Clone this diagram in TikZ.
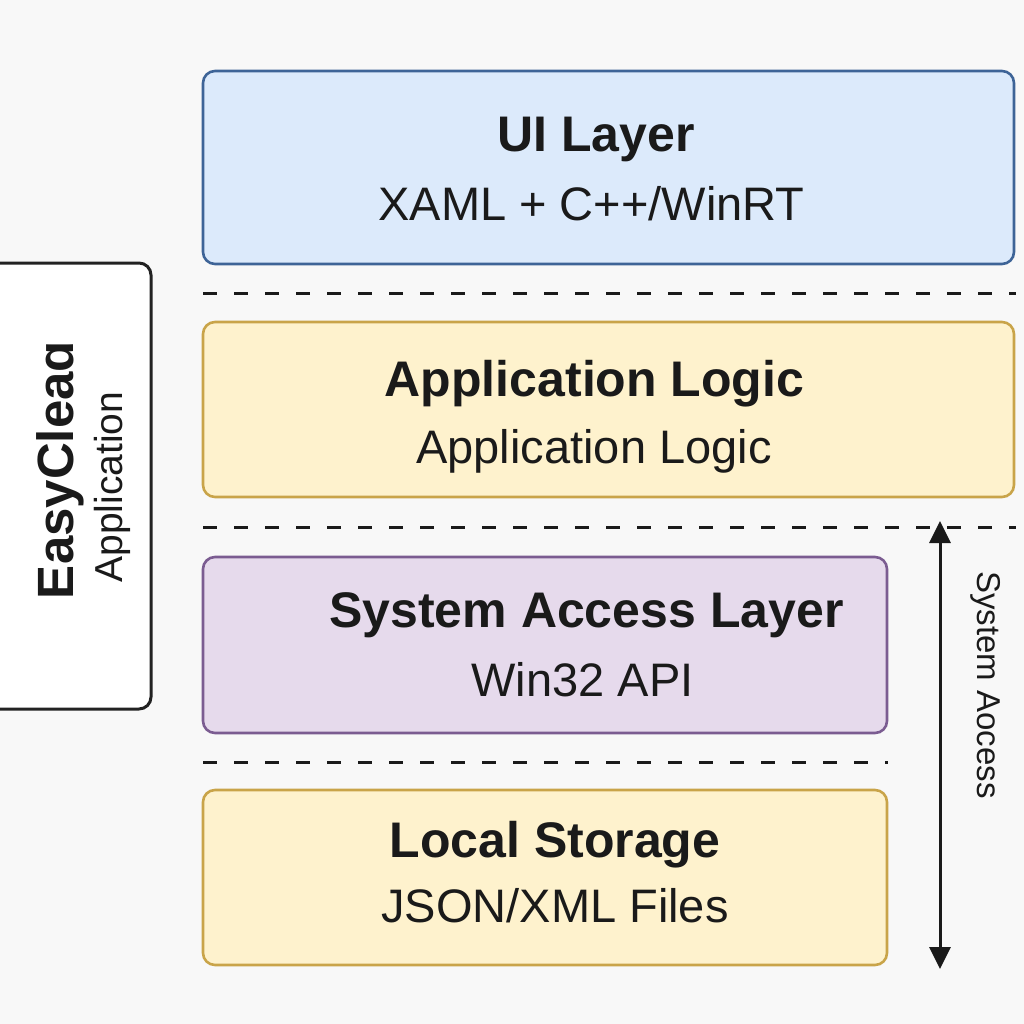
\documentclass[tikz,border=0pt]{standalone}
\usepackage{fontspec}
\setmainfont{Liberation Sans}
\usetikzlibrary{arrows.meta}
\definecolor{bgc}{HTML}{F8F8F8}
\definecolor{txt}{HTML}{1A1A1A}
\definecolor{uifill}{HTML}{DCEAFB}
\definecolor{uidraw}{HTML}{3E6497}
\definecolor{ylfill}{HTML}{FEF2CD}
\definecolor{yldraw}{HTML}{C9A449}
\definecolor{pufill}{HTML}{E6DAEC}
\definecolor{pudraw}{HTML}{7B5C91}
\definecolor{dark}{HTML}{222222}
\tikzset{
  layer/.style={rectangle, rounded corners=12pt, line width=2.6pt, inner sep=0pt},
  ttl/.style={anchor=base, text=txt, font=\fontsize{50}{60}\selectfont\bfseries, inner sep=0pt},
  sub/.style={anchor=base, text=txt, font=\fontsize{47}{56}\selectfont, inner sep=0pt},
  sep/.style={line width=3pt, draw=txt, dash pattern=on 14pt off 17pt},
}
\begin{document}
\begin{tikzpicture}[x=1pt,y=-1pt]
\useasboundingbox (0,0) rectangle (1024,1024);
\clip (0,0) rectangle (1024,1024);
\fill[bgc] (0,0) rectangle (1024,1024);
% left application box
\node[layer, draw=dark, fill=white, line width=3pt, minimum width=171pt, minimum height=446pt] (app) at (65.5,486) {};
\node[anchor=base, rotate=90, text=txt, font=\fontsize{51}{60}\selectfont\bfseries, inner sep=0pt] (appname) at (73,470) {EasyCleaɑ};
\node[anchor=base, rotate=90, text=txt, font=\fontsize{39}{46}\selectfont, inner sep=0pt] (apptype) at (122,487) {Application};
% layers
\node[layer, draw=uidraw, fill=uifill, minimum width=811pt, minimum height=193pt] (ui) at (608.5,167.5) {};
\node[ttl] (uit) at (596,152) {UI Layer};
\node[sub] (uis) at (591.5,221) {XAML + C++/WinRT};
\node[layer, draw=yldraw, fill=ylfill, minimum width=811pt, minimum height=175pt] (logic) at (608.5,409.5) {};
\node[ttl] (logict) at (594.5,396) {Application Logic};
\node[sub] (logics) at (594,463) {Application Logic};
\node[layer, draw=pudraw, fill=pufill, minimum width=684pt, minimum height=176pt] (sys) at (545,645) {};
\node[ttl] (syst) at (586.5,627) {System Access Layer};
\node[sub] (syss) at (582.5,696) {Win32 API};
\node[layer, draw=yldraw, fill=ylfill, minimum width=684pt, minimum height=175pt] (store) at (545,877.5) {};
\node[ttl] (storet) at (555,857) {Local Storage};
\node[sub] (stores) at (555,922) {JSON/XML Files};
% separators
\coordinate (s1a) at (203,293); \coordinate (s1b) at (1016,293);
\coordinate (s2a) at (203,527); \coordinate (s2b) at (1016,527);
\coordinate (s3a) at (203,762); \coordinate (s3b) at (888,762);
\draw[sep] (s1a) -- (s1b);
\draw[sep] (s2a) -- (s2b);
\draw[sep] (s3a) -- (s3b);
% system access arrow
\coordinate (atop) at (940,521);
\coordinate (abot) at (940,969);
\draw[line width=3pt, draw=txt, {Triangle[length=22pt,width=21pt]}-{Triangle[length=22pt,width=21pt]}] (atop) -- (abot);
\node[anchor=base, rotate=-90, text=txt, font=\fontsize{33}{40}\selectfont, inner sep=0pt] (acc) at (977,685) {System Aocess};
\end{tikzpicture}
\end{document}
